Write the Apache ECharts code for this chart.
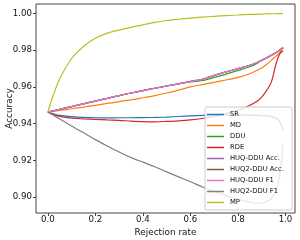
<!DOCTYPE html>
<html>
<head>
<meta charset="utf-8">
<script src="https://cdn.jsdelivr.net/npm/echarts@6/dist/echarts.min.js"></script>
<style>html,body{margin:0;padding:0;background:#fff}#c{width:300px;height:240px}</style>
</head>
<body>
<div id="c"></div>
<script>
const rates = [0, 0.02, 0.05, 0.1, 0.15, 0.2, 0.25, 0.3, 0.35, 0.4, 0.45, 0.5, 0.55, 0.6, 0.65, 0.7, 0.75, 0.8, 0.85, 0.88, 0.9, 0.92, 0.94, 0.96, 0.97, 0.98, 0.99];
const seriesNames = ['SR', 'MD', 'DDU', 'RDE', 'HUQ-DDU Acc.', 'HUQ2-DDU Acc.', 'HUQ-DDU F1', 'HUQ2-DDU F1', 'MP'];
const sr = [0.9463, 0.9455, 0.9445, 0.9438, 0.9434, 0.9432, 0.9431, 0.9432, 0.9432, 0.9433, 0.9434, 0.9436, 0.9439, 0.9442, 0.9445, 0.9447, 0.9448, 0.9447, 0.9446, 0.9445, 0.9444, 0.9442, 0.9438, 0.9430, 0.9420, 0.9400, 0.9362];
const md = [0.9463, 0.9467, 0.9472, 0.9481, 0.9490, 0.9500, 0.9510, 0.9520, 0.9530, 0.9541, 0.9553, 0.9567, 0.9583, 0.9600, 0.9613, 0.9625, 0.9638, 0.9652, 0.9672, 0.9690, 0.9703, 0.9722, 0.9745, 0.9768, 0.9780, 0.9795, 0.9810];
const ddu = [0.9463, 0.9469, 0.9478, 0.9493, 0.9508, 0.9523, 0.9538, 0.9553, 0.9567, 0.9580, 0.9593, 0.9605, 0.9617, 0.9628, 0.9635, 0.9652, 0.9670, 0.9690, 0.9710, 0.9728, 0.9745, 0.9758, 0.9772, 0.9787, 0.9795, 0.9805, 0.9815];
const rde = [0.9463, 0.9452, 0.9440, 0.9430, 0.9426, 0.9423, 0.9420, 0.9418, 0.9414, 0.9411, 0.9410, 0.9412, 0.9415, 0.9420, 0.9428, 0.9440, 0.9455, 0.9472, 0.9500, 0.9522, 0.9545, 0.9580, 0.9625, 0.9725, 0.9765, 0.9787, 0.9795];
const huqDduAcc = [0.9463, 0.9469, 0.9478, 0.9493, 0.9508, 0.9523, 0.9538, 0.9553, 0.9567, 0.9580, 0.9593, 0.9605, 0.9617, 0.9630, 0.9642, 0.9663, 0.9682, 0.9700, 0.9718, 0.9733, 0.9745, 0.9758, 0.9772, 0.9787, 0.9795, 0.9805, 0.9815];
const huq2DduAcc = [0.9463, 0.9469, 0.9478, 0.9493, 0.9508, 0.9523, 0.9538, 0.9553, 0.9567, 0.9580, 0.9593, 0.9605, 0.9617, 0.9630, 0.9642, 0.9663, 0.9682, 0.9700, 0.9718, 0.9733, 0.9745, 0.9758, 0.9772, 0.9787, 0.9795, 0.9805, 0.9815];
const huqDduF1 = [0.9463, 0.9469, 0.9478, 0.9493, 0.9508, 0.9523, 0.9538, 0.9553, 0.9567, 0.9580, 0.9593, 0.9605, 0.9617, 0.9630, 0.9642, 0.9663, 0.9682, 0.9700, 0.9718, 0.9733, 0.9745, 0.9758, 0.9772, 0.9787, 0.9795, 0.9805, 0.9815];
const huq2DduF1 = [0.9463, 0.9448, 0.9425, 0.9387, 0.9350, 0.9313, 0.9278, 0.9245, 0.9215, 0.9190, 0.9165, 0.9137, 0.9110, 0.9083, 0.9055, 0.9030, 0.9008, 0.8988, 0.8972, 0.8966, 0.8967, 0.8975, 0.8990, 0.9035, 0.9080, 0.9160, 0.9290];
const mp = [0.9463, 0.9545, 0.9645, 0.9755, 0.9820, 0.9865, 0.9893, 0.9910, 0.9925, 0.9938, 0.9952, 0.9962, 0.9969, 0.9975, 0.9980, 0.9985, 0.9989, 0.9992, 0.9995, 0.9996, 0.9997, 0.9998, 0.9999, 0.9999, 1.0000, 1.0000, 1.0000];
const xTicks = [0, 0.2, 0.4, 0.6, 0.8, 1.0];
const yTicks = [0.90, 0.92, 0.94, 0.96, 0.98, 1.00];

const allValues = [sr, md, ddu, rde, huqDduAcc, huq2DduAcc, huqDduF1, huq2DduF1, mp];
const colors = ['#1f77b4', '#ff7f0e', '#2ca02c', '#d62728', '#9467bd', '#8c564b', '#e377c2', '#7f7f7f', '#bcbd22'];
const font = 'DejaVu Sans';

const chart = echarts.init(document.getElementById('c'), null, {renderer: 'canvas'});
chart.setOption({
  animation: false,
  textStyle: {fontFamily: font},
  grid: {left: 36, right: 5, top: 4, bottom: 27, show: true, borderColor: '#444', borderWidth: 1,
         backgroundColor: 'transparent', outerBoundsMode: 'none', containLabel: false},
  xAxis: {
    type: 'value', min: -0.05, max: 1.04,
    name: 'Rejection rate', nameLocation: 'middle', nameGap: 15, nameMoveOverlap: false,
    nameTextStyle: {fontSize: 8.9, color: '#111', fontFamily: font},
    axisLine: {show: false, onZero: false},
    splitLine: {show: false},
    axisTick: {show: true, length: 3, lineStyle: {color: '#444'}, customValues: xTicks},
    axisLabel: {fontSize: 8.6, color: '#111', margin: 2, fontFamily: font, customValues: xTicks, formatter: v => v.toFixed(1)}
  },
  yAxis: {
    type: 'value', min: 0.8913, max: 1.0052,
    name: 'Accuracy', nameLocation: 'middle', nameGap: 22, nameMoveOverlap: false,
    nameTextStyle: {fontSize: 8.9, color: '#111', fontFamily: font},
    axisLine: {show: false, onZero: false},
    splitLine: {show: false},
    axisTick: {show: true, length: 3, lineStyle: {color: '#444'}, customValues: yTicks},
    axisLabel: {fontSize: 8.6, color: '#111', margin: 4, fontFamily: font, customValues: yTicks, formatter: v => v.toFixed(2)}
  },
  legend: {
    orient: 'vertical', left: 205, top: 107, z: 50,
    icon: 'rect',
    itemWidth: 17, itemHeight: 1.5, itemGap: 2,
    padding: [3, 8, 3, 2],
    backgroundColor: 'rgba(255,255,255,0.8)',
    borderColor: '#ccc', borderWidth: 1, borderRadius: 2,
    textStyle: {fontSize: 6.8, lineHeight: 9, color: '#111', fontFamily: font, padding: [0, 0, 0, 1]},
    data: seriesNames
  },
  series: seriesNames.map((n, i) => ({
    name: n, type: 'line', symbol: 'none', smooth: 0.3,
    color: colors[i],
    lineStyle: {width: 1.2, color: colors[i]},
    data: rates.map((r, j) => [r, allValues[i][j]]),
    z: 2
  }))
});
</script>
</body>
</html>
